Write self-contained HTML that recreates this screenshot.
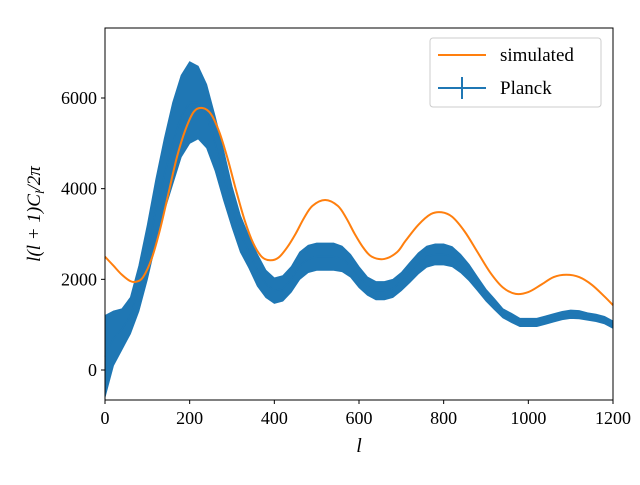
<!DOCTYPE html>
<html><head><meta charset="utf-8"><style>
body{margin:0;background:#fff}
text{font-family:"Liberation Serif","DejaVu Serif",serif;}
</style></head><body>
<svg width="640" height="480" viewBox="0 0 640 480">
<g id="plot"></g>
<rect x="105" y="28" width="508" height="372" fill="none" stroke="#000" stroke-width="1"/>
<g id="axes"></g>
<text x="359" y="452" font-size="20" font-style="italic" text-anchor="middle">l</text>
<text transform="translate(40,214) rotate(-90)" font-size="19" font-style="italic" text-anchor="middle">l(l + 1)C<tspan font-size="13" dy="4">l</tspan><tspan dy="-4">/2π</tspan></text>
<g>
<rect x="430" y="38" width="171" height="69" rx="3" fill="#fff" fill-opacity="0.8" stroke="#ccc"/>
<g>
<line x1="438" y1="55" x2="486" y2="55" stroke="#ff7f0e" stroke-width="2"/>
<text x="500" y="61" font-size="19">simulated</text></g>
<g>
<line x1="438" y1="88" x2="486" y2="88" stroke="#1f77b4" stroke-width="2"/>
<line x1="462" y1="77" x2="462" y2="99" stroke="#1f77b4" stroke-width="2"/>
<text x="500" y="94" font-size="19">Planck</text></g>
</g>
</svg>
<script>
const planckL=[0,20,40,60,80,100,120,140,160,180,200,220,240,260,280,300,320,340,360,380,400,420,440,460,480,500,520,540,560,580,600,620,640,660,680,700,720,740,760,780,800,820,840,860,880,900,920,940,960,980,1000,1020,1040,1060,1080,1100,1120,1140,1160,1180,1200];
const planckVal=[300,700,900,1200,1800,2600,3500,4300,5000,5600,5900,5900,5600,5000,4300,3600,3000,2600,2200,1900,1750,1800,2000,2300,2450,2500,2500,2500,2450,2300,2050,1850,1750,1750,1800,1950,2150,2350,2500,2550,2550,2500,2350,2150,1900,1650,1450,1250,1150,1050,1050,1050,1100,1150,1200,1230,1220,1180,1150,1100,1000];
const planckErr=[900,600,450,400,500,600,700,800,900,900,900,800,700,600,550,450,400,350,350,300,280,280,280,300,300,300,300,300,280,250,230,200,200,200,200,200,220,230,230,230,230,220,200,180,150,130,120,100,100,90,90,90,90,90,90,90,90,80,80,80,80];
const simL=[0,20,40,60,75,90,110,130,150,170,190,210,230,250,270,290,310,330,350,370,390,410,430,450,470,490,520,550,570,590,610,630,660,690,710,740,770,795,820,850,880,910,940,970,1000,1030,1060,1090,1120,1150,1180,1200];
const simVal=[2500,2300,2100,1960,1950,2050,2450,3100,3900,4700,5300,5700,5780,5650,5250,4650,3950,3300,2800,2500,2420,2480,2700,3000,3350,3620,3750,3620,3350,3000,2700,2500,2450,2600,2850,3200,3440,3480,3380,3050,2600,2150,1820,1680,1720,1880,2050,2100,2050,1880,1620,1430];
const xTicks=[0,200,400,600,800,1000,1200];
const yTicks=[0,2000,4000,6000];
const X=l=>105+(l/1200)*508;
const Y=v=>370-(v/6000)*272;
const NS="http://www.w3.org/2000/svg";
const plot=document.getElementById('plot'),axes=document.getElementById('axes');
function mk(tag,attrs,parent){const e=document.createElementNS(NS,tag);for(const k in attrs)e.setAttribute(k,attrs[k]);parent.appendChild(e);return e;}
let up=planckL.map((l,i)=>X(l)+","+Y(planckVal[i]+planckErr[i]));
let dn=planckL.map((l,i)=>X(l)+","+Y(planckVal[i]-planckErr[i])).reverse();
const band=mk('polygon',{points:up.concat(dn).join(' '),fill:'#1f77b4',stroke:'#1f77b4','stroke-width':1},plot);


const pl=mk('polyline',{points:planckL.map((l,i)=>X(l)+","+Y(planckVal[i])).join(' '),fill:'none',stroke:'#1f77b4','stroke-width':1.5},plot);


let pts=simL.map((l,i)=>[X(l),Y(simVal[i])]);
let d="M"+pts[0][0]+","+pts[0][1];
for(let i=0;i<pts.length-1;i++){const p0=pts[Math.max(i-1,0)],p1=pts[i],p2=pts[i+1],p3=pts[Math.min(i+2,pts.length-1)];
d+=` C${p1[0]+(p2[0]-p0[0])/6},${p1[1]+(p2[1]-p0[1])/6} ${p2[0]-(p3[0]-p1[0])/6},${p2[1]-(p3[1]-p1[1])/6} ${p2[0]},${p2[1]}`;}
const sim=mk('path',{d:d,fill:'none',stroke:'#ff7f0e','stroke-width':2},plot);


xTicks.forEach(t=>{mk('line',{x1:X(t),x2:X(t),y1:400,y2:404,stroke:'#000'},axes);
const tx=mk('text',{x:X(t),y:424,'font-size':18,'text-anchor':'middle'},axes);tx.textContent=t;

});
yTicks.forEach(t=>{mk('line',{x1:101,x2:105,y1:Y(t),y2:Y(t),stroke:'#000'},axes);
const tx=mk('text',{x:97,y:Y(t)+6,'font-size':18,'text-anchor':'end'},axes);tx.textContent=t;

});
</script>
</body></html>
